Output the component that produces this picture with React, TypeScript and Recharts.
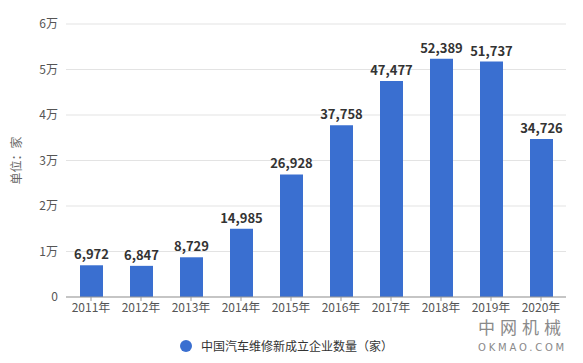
import React from "react";
import {
  BarChart,
  Bar,
  XAxis,
  YAxis,
  CartesianGrid,
  LabelList,
  Legend
} from "recharts";

const FONT = "'Noto Sans CJK SC', 'Noto Sans', sans-serif";
const BAR_COLOR = "#3a6fd0";

// data
const years = ["2011年", "2012年", "2013年", "2014年", "2015年", "2016年", "2017年", "2018年", "2019年", "2020年"];
const counts = [6972, 6847, 8729, 14985, 26928, 37758, 47477, 52389, 51737, 34726];
const yTicks = [0, 10000, 20000, 30000, 40000, 50000, 60000];
const seriesName = "中国汽车维修新成立企业数量（家）";

const data = years.map((year, i) => ({ year, count: counts[i] }));

const fmtWan = (v: number) => (v === 0 ? "0" : `${v / 10000}万`);
const fmtNum = (v: any) => Number(v).toLocaleString("en-US");

const LegendContent = () => (
  <div style={{ position: "relative", height: 24, fontFamily: FONT }}>
    <div style={{ position: "absolute", left: 180, top: 6, display: "flex", alignItems: "center" }}>
      <span style={{ width: 12, height: 12, borderRadius: 6, background: BAR_COLOR, display: "inline-block", marginRight: 9 }} />
      <span style={{ fontSize: 12, color: "#333", lineHeight: "12px" }}>{seriesName}</span>
    </div>
  </div>
);

export default function App() {
  return (
    <div style={{ position: "absolute", left: 0, top: 0, width: 583, height: 363, background: "#fff", fontFamily: FONT }}>
      <BarChart
        width={583}
        height={363}
        data={data}
        margin={{ top: 24, right: 17, left: 10, bottom: 12 }}
        barSize={23}
      >
        <CartesianGrid horizontal vertical={false} stroke="#e3e3e3" />
        <XAxis
          dataKey="year"
          height={30}
          tickLine={{ stroke: "#999" }}
          axisLine={{ stroke: "#999" }}
          tick={{ fontSize: 12, fill: "#555", fontFamily: FONT }}
          tickSize={4}
          interval={0}
        />
        <YAxis
          width={56}
          domain={[0, 60000]}
          ticks={yTicks}
          tickFormatter={fmtWan}
          axisLine={false}
          tickLine={false}
          tick={{ fontSize: 12, fill: "#555", fontFamily: FONT }}
          label={{
            value: "单位：家",
            angle: -90,
            position: "insideLeft",
            offset: 7,
            style: { fontSize: 12, fill: "#666", fontFamily: FONT, textAnchor: "middle" }
          }}
        />
        <Legend
          verticalAlign="bottom"
          content={<LegendContent />}
          wrapperStyle={{ height: 24, top: 334, left: 0, width: 583 }}
        />
        <Bar dataKey="count" name={seriesName} fill={BAR_COLOR} isAnimationActive={false}>
          <LabelList
            dataKey="count"
            position="top"
            offset={6}
            formatter={fmtNum}
            style={{ fontSize: 13, fontWeight: "bold", fill: "#333", fontFamily: FONT }}
          />
        </Bar>
      </BarChart>
      <div style={{ position: "absolute", left: 478, top: 317, color: "#8a8a8a", fontSize: 17, letterSpacing: 5, lineHeight: "20px" }}>
        中网机械
      </div>
      <div style={{ position: "absolute", left: 478, top: 342, color: "#8a8a8a", fontSize: 10, letterSpacing: 2.8, lineHeight: "11px", fontFamily: "'DejaVu Sans', sans-serif" }}>
        OKMAO.COM
      </div>
    </div>
  );
}
